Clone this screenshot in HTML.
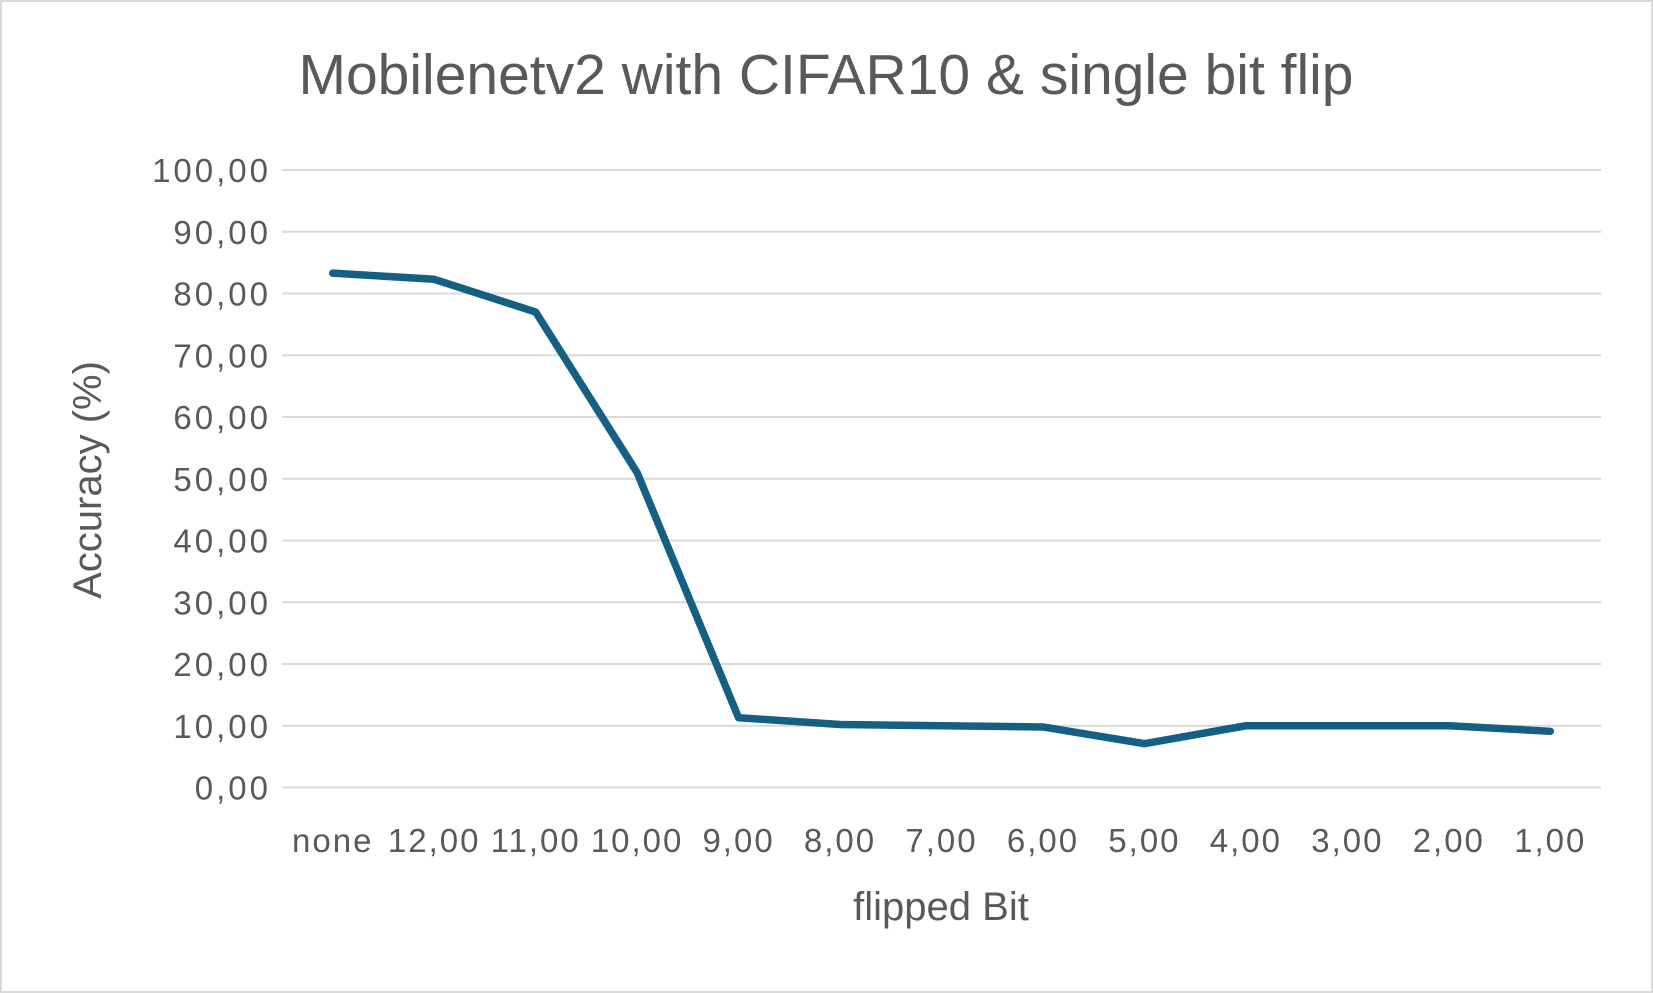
<!DOCTYPE html>
<html><head><meta charset="utf-8"><style>
body{margin:0;background:#fff;}
svg{display:block;font-family:"Liberation Sans",sans-serif;}
</style></head><body>
<svg id="chart" width="1653" height="993">
<rect x="1" y="1" width="1651" height="991" fill="#fff" stroke="#d9d9d9" stroke-width="2"/>
<text x="826" y="94" text-anchor="middle" font-size="57" fill="#595959">Mobilenetv2 with CIFAR10 &amp; single bit flip</text>
<g id="grid"></g><g id="yticks"></g><g id="xticks"></g><g id="series"></g>
<text x="941" y="920" text-anchor="middle" font-size="40" fill="#595959">flipped Bit</text>
<text transform="translate(101,480) rotate(-90)" text-anchor="middle" font-size="40" fill="#595959">Accuracy (%)</text>
</svg>
<script>
const categories=["none","12,00","11,00","10,00","9,00","8,00","7,00","6,00","5,00","4,00","3,00","2,00","1,00"];
const accuracy=[83.3,82.3,77.0,51.0,11.3,10.2,10.0,9.8,7.1,10.0,10.0,10.0,9.1];
const yTicks=[0,10,20,30,40,50,60,70,80,90,100];
const NS="http://www.w3.org/2000/svg";
const plotL=282,plotR=1601,yTop=170,yBot=787.5;
const y=v=>yBot-(v/100)*(yBot-yTop);
const step=(plotR-plotL)/categories.length;
const x=i=>plotL+step*(i+0.5);
const grid=document.getElementById('grid'),yt=document.getElementById('yticks'),xt=document.getElementById('xticks'),ser=document.getElementById('series');
yTicks.forEach(v=>{
 const l=document.createElementNS(NS,'line');
 l.setAttribute('x1',plotL);l.setAttribute('x2',plotR);l.setAttribute('y1',y(v));l.setAttribute('y2',y(v));
 l.setAttribute('stroke','#d9d9d9');l.setAttribute('stroke-width','2');
 
 
 grid.appendChild(l);
 const t=document.createElementNS(NS,'text');
 t.setAttribute('x',271);t.setAttribute('y',y(v)+12);t.setAttribute('text-anchor','end');
 t.setAttribute('font-size','33');t.setAttribute('fill','#595959');t.setAttribute('letter-spacing','3');
 t.textContent=v.toFixed(2).replace('.',',');
 
 
 yt.appendChild(t);
});
categories.forEach((c,i)=>{
 const t=document.createElementNS(NS,'text');
 t.setAttribute('x',x(i));t.setAttribute('y',852);t.setAttribute('text-anchor','middle');
 t.setAttribute('font-size','33');t.setAttribute('fill','#595959');t.setAttribute('letter-spacing','2');
 t.textContent=c;
 
 
 xt.appendChild(t);
});
const p=document.createElementNS(NS,'polyline');
p.setAttribute('points',accuracy.map((v,i)=>x(i)+','+y(v)).join(' '));
p.setAttribute('fill','none');p.setAttribute('stroke','#156082');p.setAttribute('stroke-width','7.5');
p.setAttribute('stroke-linejoin','round');p.setAttribute('stroke-linecap','round');


ser.appendChild(p);
</script>
</body></html>
